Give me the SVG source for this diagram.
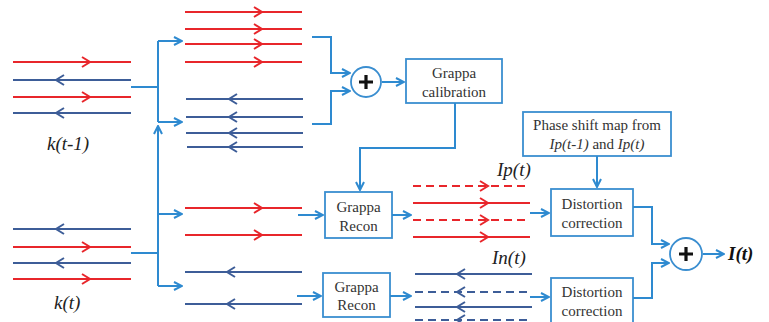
<svg xmlns="http://www.w3.org/2000/svg" xmlns:xlink="http://www.w3.org/1999/xlink" width="769" height="322" viewBox="0 0 769 322">
<style>
.r{stroke:#E8262B;stroke-width:2;fill:none}
.b{stroke:#3D5D98;stroke-width:2;fill:none}
.d{stroke-dasharray:8,5}
.c{stroke:#2E8AD0;stroke-width:2;fill:none}
.box{fill:#fff;stroke:#3A8ED0;stroke-width:1.8}
.t{font-family:'Liberation Serif',serif;font-size:15px;fill:#333;text-anchor:middle}
.lab{font-family:'Liberation Serif',serif;font-size:19px;font-style:italic;fill:#222}
.out{font-family:'Liberation Serif',serif;font-size:19px;font-style:italic;font-weight:bold;fill:#111}
.plus{stroke:#111;stroke-width:3.2}
</style>
<defs>
<path id="cr" d="M-8,-5 L0,0 L-8,5"/>
<path id="cl" d="M8,-5 L0,0 L8,5"/>
<marker id="ah" viewBox="0 0 10 10" refX="9" refY="5" markerWidth="10" markerHeight="10" markerUnits="userSpaceOnUse" orient="auto">
<path d="M1,1 L9,5 L1,9" fill="none" stroke="#2E8AD0" stroke-width="2"/>
</marker>
</defs>
<rect width="769" height="322" fill="#fff"/>

<g id="k_t-1">
<line class="r" x1="13" y1="62" x2="131" y2="62"/><use href="#cr" class="r" x="90" y="62"/>
<line class="b" x1="13" y1="80" x2="131" y2="80"/><use href="#cl" class="b" x="56" y="80"/>
<line class="r" x1="13" y1="97" x2="131" y2="97"/><use href="#cr" class="r" x="90" y="97"/>
<line class="b" x1="13" y1="113" x2="131" y2="113"/><use href="#cl" class="b" x="56" y="113"/>
<text class="lab" x="47" y="150">k(t-1)</text>
</g>

<g id="k_t">
<line class="b" x1="13" y1="229" x2="131" y2="229"/><use href="#cl" class="b" x="56" y="229"/>
<line class="r" x1="13" y1="247" x2="131" y2="247"/><use href="#cr" class="r" x="90" y="247"/>
<line class="b" x1="13" y1="263" x2="131" y2="263"/><use href="#cl" class="b" x="56" y="263"/>
<line class="r" x1="13" y1="279" x2="131" y2="279"/><use href="#cr" class="r" x="90" y="279"/>
<text class="lab" x="54" y="309">k(t)</text>
</g>

<g id="top_red">
<line class="r" x1="185" y1="12" x2="302" y2="12"/><use href="#cr" class="r" x="262" y="12"/>
<line class="r" x1="185" y1="29" x2="302" y2="29"/><use href="#cr" class="r" x="262" y="29"/>
<line class="r" x1="185" y1="44" x2="302" y2="44"/><use href="#cr" class="r" x="262" y="44"/>
<line class="r" x1="185" y1="62" x2="302" y2="62"/><use href="#cr" class="r" x="262" y="62"/>
</g>
<g id="top_blue">
<line class="b" x1="186" y1="99" x2="303" y2="99"/><use href="#cl" class="b" x="229" y="99"/>
<line class="b" x1="186" y1="117" x2="303" y2="117"/><use href="#cl" class="b" x="229" y="117"/>
<line class="b" x1="186" y1="133" x2="303" y2="133"/><use href="#cl" class="b" x="229" y="133"/>
<line class="b" x1="187" y1="147" x2="303" y2="147"/><use href="#cl" class="b" x="229" y="147"/>
</g>
<g id="bot_red">
<line class="r" x1="185" y1="208" x2="302" y2="208"/><use href="#cr" class="r" x="262" y="208"/>
<line class="r" x1="185" y1="235" x2="302" y2="235"/><use href="#cr" class="r" x="262" y="235"/>
</g>
<g id="bot_blue">
<line class="b" x1="185" y1="272" x2="302" y2="272"/><use href="#cl" class="b" x="227" y="272"/>
<line class="b" x1="185" y1="304" x2="302" y2="304"/><use href="#cl" class="b" x="227" y="304"/>
</g>

<g id="sum1">
<circle cx="366" cy="82" r="15" fill="#fff" stroke="#3A8ED0" stroke-width="1.8"/>
<path class="plus" d="M359,82 H373 M366,75 V89"/>
</g>

<g id="grappa_cal">
<rect class="box" x="406" y="59" width="96" height="44"/>
<text class="t" x="454" y="78">Grappa</text>
<text class="t" x="454" y="97">calibration</text>
</g>

<g id="grappa_recon1">
<rect class="box" x="325" y="192" width="67" height="46"/>
<text class="t" x="358.5" y="212">Grappa</text>
<text class="t" x="358.5" y="231">Recon</text>
</g>
<g id="grappa_recon2">
<rect class="box" x="323" y="273" width="67" height="44"/>
<text class="t" x="356.5" y="292">Grappa</text>
<text class="t" x="356.5" y="310">Recon</text>
</g>

<g id="Ip">
<line class="r d" x1="413" y1="186" x2="530" y2="186"/><use href="#cr" class="r" x="488" y="186"/>
<line class="r" x1="413" y1="203" x2="530" y2="203"/><use href="#cr" class="r" x="488" y="203"/>
<line class="r d" x1="413" y1="220" x2="530" y2="220"/><use href="#cr" class="r" x="488" y="220"/>
<line class="r" x1="413" y1="237" x2="530" y2="237"/><use href="#cr" class="r" x="488" y="237"/>
<text class="lab" x="497" y="176">Ip(t)</text>
</g>
<g id="In">
<line class="b" x1="415" y1="274" x2="532" y2="274"/><use href="#cl" class="b" x="457" y="274"/>
<line class="b d" x1="415" y1="292" x2="532" y2="292"/><use href="#cl" class="b" x="457" y="292"/>
<line class="b" x1="415" y1="307" x2="532" y2="307"/><use href="#cl" class="b" x="457" y="307"/>
<line class="b d" x1="415" y1="320" x2="532" y2="320"/><use href="#cl" class="b" x="457" y="320"/>
<text class="lab" x="492" y="264">In(t)</text>
</g>

<g id="phase_map">
<rect class="box" x="523" y="112" width="148" height="44"/>
<text class="t" x="597" y="130">Phase shift map from</text>
<text class="t" x="597" y="149"><tspan font-style="italic">Ip(t-1)</tspan> and <tspan font-style="italic">Ip(t)</tspan></text>
</g>

<g id="distortion1">
<rect class="box" x="551" y="189" width="82" height="47"/>
<text class="t" x="592" y="209">Distortion</text>
<text class="t" x="592" y="228">correction</text>
</g>
<g id="distortion2">
<rect class="box" x="551" y="278" width="82" height="46"/>
<text class="t" x="592" y="297">Distortion</text>
<text class="t" x="592" y="316">correction</text>
</g>

<g id="sum2">
<circle cx="686" cy="254" r="16" fill="#fff" stroke="#3A8ED0" stroke-width="1.8"/>
<path class="plus" d="M679,254 H693 M686,247 V261"/>
</g>

<g id="output">
<text class="out" x="728" y="260">I(t)</text>
</g>

<g id="connectors" class="c">
<path class="c" d="M131,87 H158 M158,41 V122"/>
<path class="c" d="M158,41 H182" marker-end="url(#ah)"/>
<path class="c" d="M158,122 H182" marker-end="url(#ah)"/>
<path class="c" d="M131,253 H158"/>
<path class="c" d="M158,286 V126" marker-end="url(#ah)"/>
<path class="c" d="M158,214 H182" marker-end="url(#ah)"/>
<path class="c" d="M158,286 H182" marker-end="url(#ah)"/>
<path class="c" d="M312,37 H331 V73 H350" marker-end="url(#ah)"/>
<path class="c" d="M312,124 H331 V91 H350" marker-end="url(#ah)"/>
<path class="c" d="M382,82 H404" marker-end="url(#ah)"/>
<path class="c" d="M455,103 V148 H360 V190" marker-end="url(#ah)"/>
<path class="c" d="M298,215 H323" marker-end="url(#ah)"/>
<path class="c" d="M297,296 H321" marker-end="url(#ah)"/>
<path class="c" d="M392,215 H411" marker-end="url(#ah)"/>
<path class="c" d="M390,296 H411" marker-end="url(#ah)"/>
<path class="c" d="M530,213 H549" marker-end="url(#ah)"/>
<path class="c" d="M530,297 H549" marker-end="url(#ah)"/>
<path class="c" d="M597,156 V187" marker-end="url(#ah)"/>
<path class="c" d="M633,207 H652 V244 H669" marker-end="url(#ah)"/>
<path class="c" d="M633,298 H652 V263 H669" marker-end="url(#ah)"/>
<path class="c" d="M703,254 H724" marker-end="url(#ah)"/>
</g>
</svg>
